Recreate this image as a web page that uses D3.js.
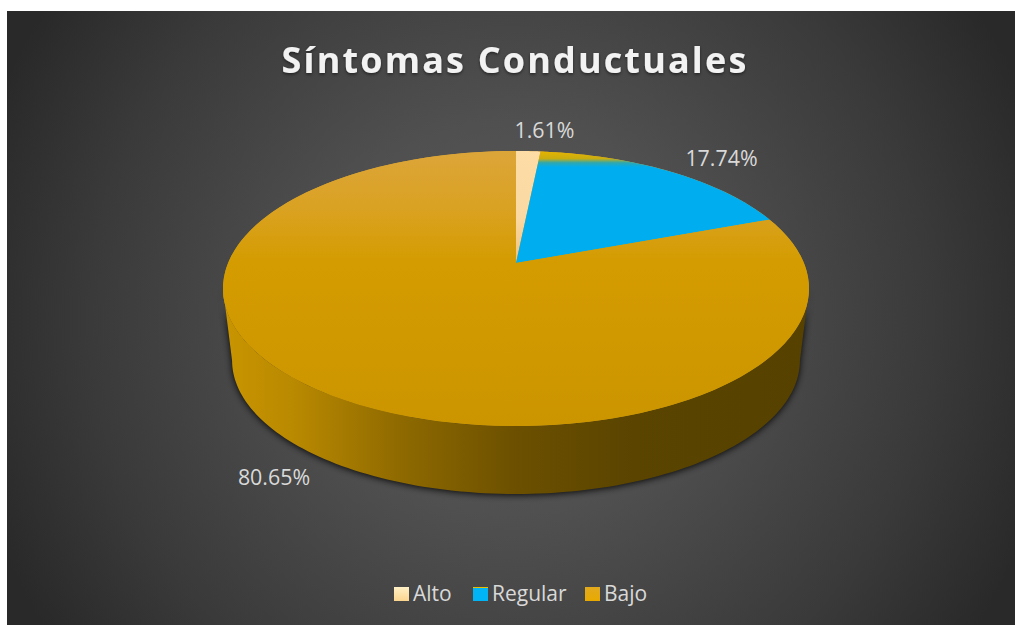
<!DOCTYPE html>
<html><head><meta charset="utf-8">
<script src="https://cdn.jsdelivr.net/npm/d3@7/dist/d3.min.js"></script>
<style>html,body{margin:0;padding:0;background:#fff}svg{display:block}text{font-family:"Open Sans",sans-serif}</style>
</head><body><svg id="c" width="1015" height="625"></svg>
<script>
const categories = ["Alto", "Regular", "Bajo"];
const values = [1.61, 17.74, 80.65];
const valueLabels = ["1.61%", "17.74%", "80.65%"];
const titleText = "Síntomas Conductuales";

const svg = d3.select("#c");
const defs = svg.append("defs");
function grad(id, type, attrs, stops){
  const g = defs.append(type).attr("id", id);
  Object.entries(attrs).forEach(([k,v])=>g.attr(k,v));
  stops.forEach(([o,c])=>g.append("stop").attr("offset",o).attr("stop-color",c));
}
grad("bg","radialGradient",{gradientUnits:"userSpaceOnUse",cx:511,cy:318,r:560},[[0,"#5a5a5a"],[0.35,"#505050"],[0.75,"#3a3a3a"],[1,"#292929"]]);
grad("alto","linearGradient",{gradientUnits:"userSpaceOnUse",x1:0,y1:150,x2:0,y2:263},[[0,"#fddca6"],[0.6,"#fbd9a2"],[1,"#eec27f"]]);
grad("reg","linearGradient",{gradientUnits:"userSpaceOnUse",x1:0,y1:151,x2:0,y2:170},[[0,"#e6b400"],[0.4,"#c9ad10"],[0.62,"#2fa8b0"],[0.85,"#00adef"],[1,"#00adef"]]);
grad("bajoTop","linearGradient",{gradientUnits:"userSpaceOnUse",x1:0,y1:150,x2:0,y2:430},[[0,"#dca539"],[0.2,"#daa223"],[0.4,"#d49c00"],[1,"#cb9500"]]);
grad("side","linearGradient",{gradientUnits:"userSpaceOnUse",x1:223,y1:0,x2:809,y2:0},[[0,"#c99500"],[0.12,"#b98900"],[0.3,"#8f6a00"],[0.5,"#6c5000"],[0.7,"#5a4400"],[1,"#564100"]]);
grad("lg0","linearGradient",{x1:0,y1:0,x2:0,y2:1},[[0,"#fff0c4"],[1,"#fbd58f"]]);
grad("lg1","linearGradient",{x1:0,y1:0,x2:0,y2:1},[[0,"#e6c000"],[0.07,"#e6c000"],[0.1,"#00b4f5"],[1,"#00b4f5"]]);
grad("lg2","linearGradient",{x1:0,y1:0,x2:0,y2:1},[[0,"#e2a91e"],[1,"#e8aa00"]]);
const blur = defs.append("filter").attr("id","sh").attr("x","-10%").attr("y","-10%").attr("width","120%").attr("height","130%");
blur.append("feGaussianBlur").attr("stdDeviation",3.5);
const ts = defs.append("filter").attr("id","ts").attr("x","-5%").attr("y","-20%").attr("width","110%").attr("height","150%");
ts.append("feDropShadow").attr("dx",0).attr("dy",1.5).attr("stdDeviation",1.5).attr("flood-color","#000").attr("flood-opacity",.5);

svg.append("rect").attr("x",7).attr("y",11).attr("width",1008).attr("height",614).attr("fill","url(#bg)");

// perspective projection of the unit disc, built on d3's continuous scales
const k = 0.1855;
const xTop = d3.scaleLinear().domain([-1,1]).range([516-287.9,516+287.9]);
const yTop = d3.scaleLinear().domain([-1,1]).range([263+132.8,263-132.8]);
const xBot = d3.scaleLinear().domain([-1,1]).range([516-279,516+279]);
const yBot = d3.scaleLinear().domain([-1,1]).range([335.6+129,335.6-129]);
const proj = (a,r,X,Y)=>{
  const u=r*Math.sin(a), v=r*Math.cos(a), w=1+k*v;
  return [X(u/w),Y(v/w)];
};
const arcPts=(a0,a1,X,Y)=>d3.range(0,121).map(i=>proj(a0+(a1-a0)*i/120,1,X,Y));
const line=d3.line();
const pie=d3.pie().sort(null).value(d=>d)(values);

// side wall silhouette: from the widest point of the top disc to the widest point of the bottom disc
const a0=Math.acos(-k), a1=2*Math.PI-a0;
const wall=line(arcPts(a0,a1,xTop,yTop).concat(arcPts(a0,a1,xBot,yBot).reverse()))+"Z";
svg.append("path").attr("d",wall).attr("fill","#000").attr("opacity",.9).attr("filter","url(#sh)").attr("transform","translate(0,1)");
svg.append("path").attr("d",wall).attr("fill","url(#side)");

// top face
const fills=["url(#alto)","url(#reg)","url(#bajoTop)"];
svg.append("path").attr("d",line(arcPts(0,2*Math.PI,xTop,yTop))+"Z").attr("fill","url(#bajoTop)");
svg.selectAll("path.s").data(pie).join("path").attr("class","s")
  .attr("d",d=>line([proj(0,0,xTop,yTop)].concat(arcPts(d.startAngle,d.endAngle,xTop,yTop)))+"Z")
  .attr("fill",(d,i)=>fills[i]);

// title
svg.append("text").attr("x",515).attr("y",73).attr("text-anchor","middle")
  .attr("font-size",36).attr("font-weight",700).attr("letter-spacing",2.15).attr("fill","#f2f2f2")
  .attr("filter","url(#ts)").text(titleText);

// data labels
const lblPos=[[544.5,138],[721.5,166],[274,485]];
svg.selectAll("text.l").data(valueLabels).join("text").attr("class","l")
  .attr("x",(d,i)=>lblPos[i][0]).attr("y",(d,i)=>lblPos[i][1]).attr("text-anchor","middle")
  .attr("font-size",21.4).attr("fill","#d9d9d9").text(d=>d);

// legend
const lgX=[394,473,585];
const lg=svg.selectAll("g.lg").data(categories).join("g").attr("class","lg")
  .attr("transform",(d,i)=>`translate(${lgX[i]},587)`);
lg.append("rect").attr("width",15).attr("height",14).attr("fill",(d,i)=>`url(#lg${i})`);
lg.append("text").attr("x",19).attr("y",14).attr("font-size",21).attr("fill","#d9d9d9").text(d=>d);
</script></body></html>
